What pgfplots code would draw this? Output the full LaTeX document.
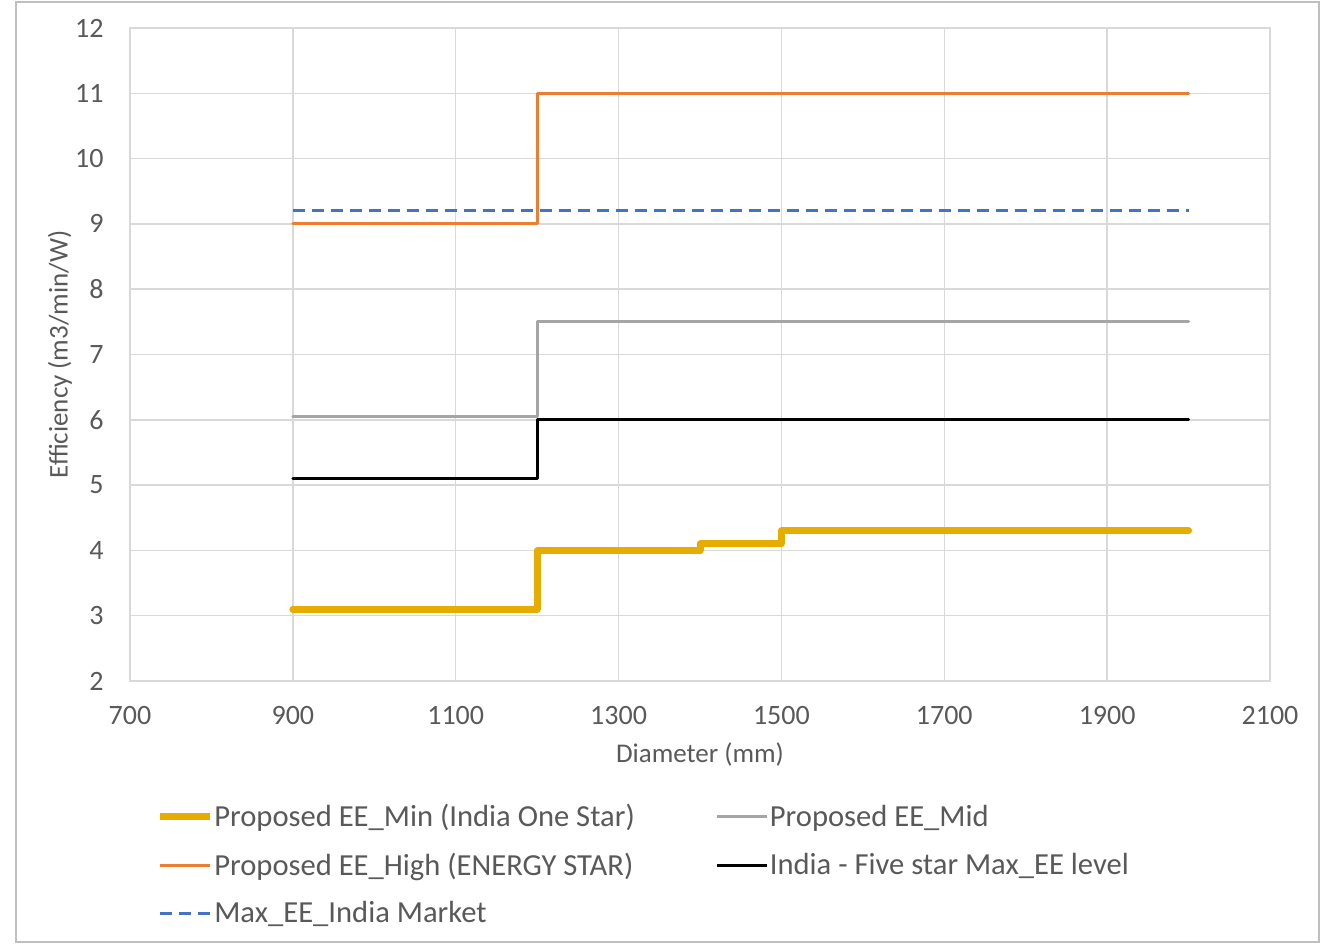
\documentclass[border=0pt]{standalone}
\usepackage{fontspec}
\setmainfont{Carlito}
\usepackage{pgfplots}
\pgfplotsset{compat=1.18}
\definecolor{txt}{HTML}{595959}
\definecolor{gridc}{HTML}{D9D9D9}
\definecolor{borderc}{HTML}{BFBFBF}
\definecolor{cgold}{HTML}{E6AC00}
\definecolor{corange}{HTML}{ED7D31}
\definecolor{cgray}{HTML}{A5A5A5}
\definecolor{cblue}{HTML}{4472C4}
\begin{document}
\begin{tikzpicture}
\useasboundingbox (-65bp,-131.5bp) rectangle (595.5bp,340.5bp);
\draw[borderc, line width=0.75bp] (-57bp,-130.5bp) rectangle (594.5bp,339.5bp);
\begin{axis}[
  at={(0,0)}, anchor=south west,
  scale only axis, width=570bp, height=326.5bp,
  xmin=700, xmax=2100, ymin=2, ymax=12,
  xtick={700,900,...,2100}, ytick={2,3,...,12},
  /pgf/number format/1000 sep={},
  /pgf/number format/assume math mode=true,
  tick style={draw=none},
  grid=major,
  major grid style={gridc, line width=0.75bp},
  axis line style={gridc, line width=0.75bp},
  ticklabel style={font=\fontsize{14bp}{16bp}\selectfont, text=txt, inner sep=0pt},
  xticklabel style={anchor=center, yshift=-17.5bp},
  yticklabel style={anchor=east, xshift=-13bp},
  xlabel={Diameter (mm)},
  ylabel={Efficiency (m3/min/W)},
  every axis x label/.style={at={(axis description cs:0.5,-0.1133)}, anchor=center, text=txt, font=\fontsize{13.5bp}{16bp}\selectfont},
  every axis y label/.style={at={(axis description cs:-0.0614,0.5)}, anchor=center, rotate=90, text=txt, font=\fontsize{13.5bp}{16bp}\selectfont},
  legend columns=2,
  legend cell align=left,
  legend style={
    at={(axis description cs:0.0175,-0.176)}, anchor=north west,
    draw=none, fill=none,
    font=\fontsize{15.3bp}{18bp}\selectfont, text=txt,
    row sep=7.5bp,
    /tikz/every odd column/.append style={column sep=-1.5bp},
    /tikz/every even column/.append style={column sep=38.5bp},
  },
  legend image code/.code={\draw[#1] (0bp,0bp) -- (25bp,0bp);},
  line cap=round, line join=round,
]
\addplot[cgold, line width=3.5bp] coordinates {(900,3.1)(1200,3.1)(1200,4.0)(1400,4.0)(1400,4.1)(1500,4.1)(1500,4.3)(2000,4.3)};
\addlegendentry{Proposed EE\_Min (India One Star)}
\addplot[cgray, line width=1.5bp] coordinates {(900,6.05)(1200,6.05)(1200,7.5)(2000,7.5)};
\addlegendentry{Proposed EE\_Mid}
\addplot[corange, line width=1.5bp] coordinates {(900,9)(1200,9)(1200,11)(2000,11)};
\addlegendentry{Proposed EE\_High (ENERGY STAR)}
\addplot[black, line width=1.5bp] coordinates {(900,5.1)(1200,5.1)(1200,6)(2000,6)};
\addlegendentry{India - Five star Max\_EE level}
\addplot[cblue, line width=1.5bp, line cap=butt, dash pattern=on 6bp off 3.5bp] coordinates {(900,9.2)(2000,9.2)};
\addlegendentry{Max\_EE\_India Market}
\end{axis}
\end{tikzpicture}
\end{document}
